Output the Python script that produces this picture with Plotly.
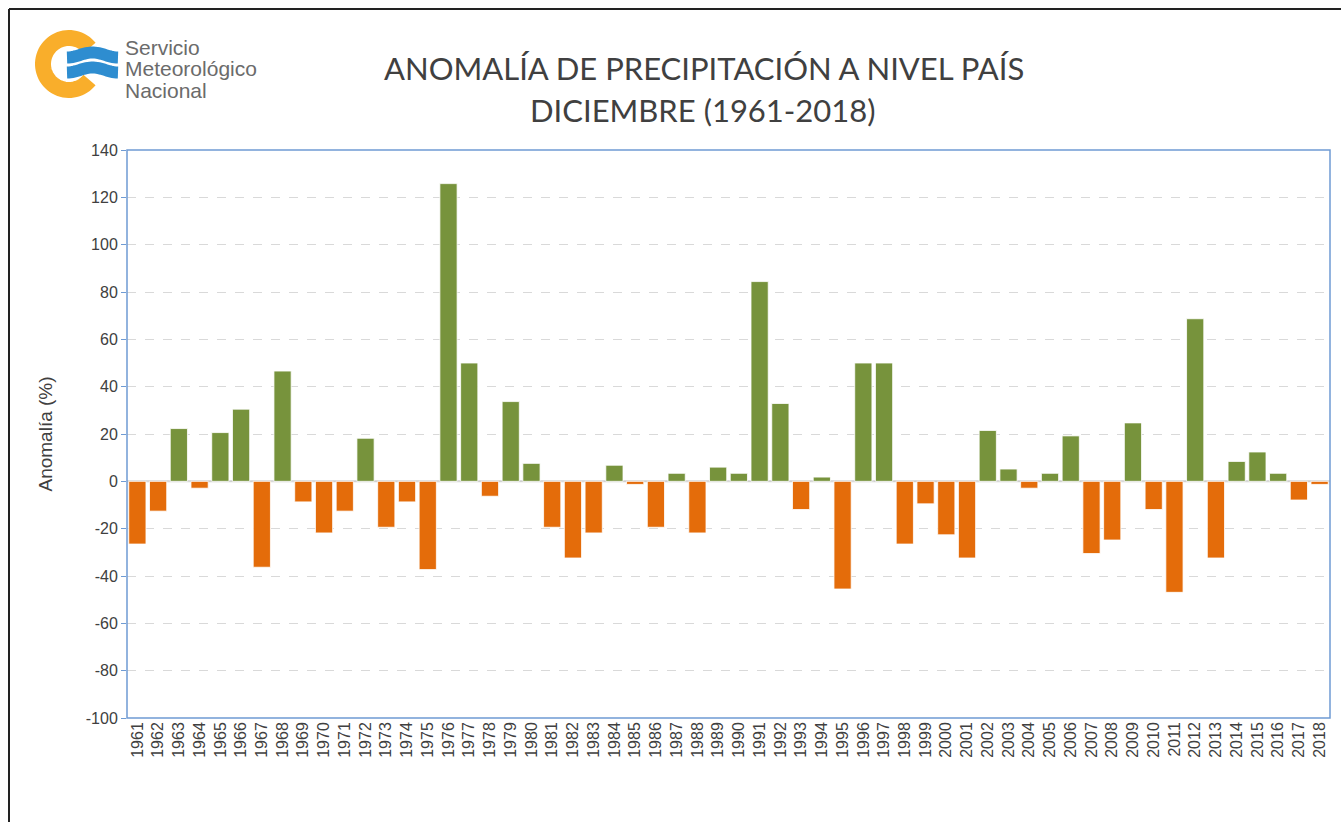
import numpy as np
import plotly.graph_objects as go

years = [str(y) for y in range(1961, 2019)]
anomaly = [
    -26.5, -12.6, 22.3, -2.9, 20.6, 30.5, -36.3, 46.6, -8.7, -21.8,
    -12.6, 18.2, -19.4, -8.7, -37.3, 125.8, 50.0, -6.3, 33.7, 7.6,
    -19.4, -32.4, -21.8, 6.8, -1.3, -19.4, 3.4, -21.8, 6.0, 3.4,
    84.4, 32.9, -11.9, 1.8, -45.5, 50.0, 50.0, -26.5, -9.5, -22.6,
    -32.4, 21.5, 5.2, -2.9, 3.4, 19.2, -30.5, -24.8, 24.7, -11.9,
    -46.9, 68.7, -32.4, 8.4, 12.4, 3.4, -7.9, -1.3,
]
y_ticks = list(range(-100, 141, 20))
y_ticktext = [str(v) for v in y_ticks]

GREEN = "#77933C"
ORANGE = "#E46C0A"
colors = [GREEN if v >= 0 else ORANGE for v in anomaly]

W, H = 1341, 822
L, R, T, B = 127, 1330, 150, 718


def px(x, y):
    return (x - L) / (R - L), (B - y) / (B - T)


fig = go.Figure(go.Bar(
    x=years, y=anomaly, marker_color=colors,
    marker_line_color="rgba(255,255,255,0.8)", marker_line_width=1,
))

shapes = []
# outer frame
x0, y0 = px(9, 9)
x1, y1 = px(1341, 822)
shapes.append(dict(type="line", xref="paper", yref="paper", x0=x0, y0=y0, x1=x0, y1=y1,
                   line=dict(color="#222", width=2)))
shapes.append(dict(type="line", xref="paper", yref="paper", x0=x0, y0=y0, x1=x1, y1=y0,
                   line=dict(color="#222", width=2)))
# plot border
shapes.append(dict(type="rect", xref="paper", yref="paper", x0=0, y0=0, x1=1, y1=1,
                   line=dict(color="#6F9BD3", width=1.5)))
# zero line
shapes.append(dict(type="line", xref="paper", yref="y", x0=0, x1=1, y0=0, y1=0,
                   line=dict(color="#D0D0D0", width=2), layer="below"))

# logo ring
cx, cy, r = 69, 64, 26
ang = np.linspace(np.radians(38), np.radians(322), 60)
pts = [px(cx + r * np.cos(a), cy - r * np.sin(a)) for a in ang]
path = "M " + " L ".join(f"{p[0]},{p[1]}" for p in pts)
shapes.append(dict(type="path", xref="paper", yref="paper", path=path,
                   line=dict(color="#F9AE2B", width=16)))
# logo waves
for yc in [55, 70]:
    xs = np.linspace(67, 118, 30)
    wp = [px(x, yc + 2.5 * np.cos((x - 67) / 51 * 2 * np.pi)) for x in xs]
    p2 = "M " + " L ".join(f"{p[0]},{p[1]}" for p in wp)
    shapes.append(dict(type="path", xref="paper", yref="paper", path=p2,
                       line=dict(color="#2E8DD0", width=12)))

annotations = []
for i, t in enumerate(["Servicio", "Meteorológico", "Nacional"]):
    ax, ay = px(123, 47 + 22 * i)
    annotations.append(dict(text=t, xref="paper", yref="paper", x=ax, y=ay,
                            xanchor="left", yanchor="middle", showarrow=False,
                            font=dict(family="Liberation Sans", size=21, color="#6b6b6b")))
tx, ty = px(704, 68)
annotations.append(dict(text="ANOMALÍA DE PRECIPITACIÓN A NIVEL PAÍS", xref="paper", yref="paper",
                        x=tx, y=ty, xanchor="center", yanchor="middle", showarrow=False,
                        font=dict(family="Lato", size=31, color="#404040")))
tx, ty = px(703, 110)
annotations.append(dict(text="DICIEMBRE (1961-2018)", xref="paper", yref="paper",
                        x=tx, y=ty, xanchor="center", yanchor="middle", showarrow=False,
                        font=dict(family="Lato", size=31, color="#404040")))

fig.update_layout(
    width=W, height=H,
    margin=dict(l=L, r=W - R, t=T, b=H - B),
    paper_bgcolor="white", plot_bgcolor="white",
    bargap=0.17, showlegend=False,
    shapes=shapes, annotations=annotations,
    font=dict(family="Liberation Sans", color="#404040"),
    xaxis=dict(type="category", tickangle=-90, tickfont=dict(size=16, color="#404040"),
               showgrid=False, showline=False, ticks=""),
    yaxis=dict(range=[-100, 140], tickvals=y_ticks, ticktext=y_ticktext,
               tickfont=dict(size=16, color="#404040"),
               showgrid=True, gridcolor="#D9D9D9", griddash="dash", gridwidth=1,
               zeroline=False, showline=False, ticks="outside", ticklen=5,
               tickcolor="#6F9BD3",
               title=dict(text="Anomalía (%)", font=dict(size=19, color="#404040"), standoff=28)),
)

fig.write_html("out.html", config={"displayModeBar": False},
               post_script="document.body.style.margin='0px';")
